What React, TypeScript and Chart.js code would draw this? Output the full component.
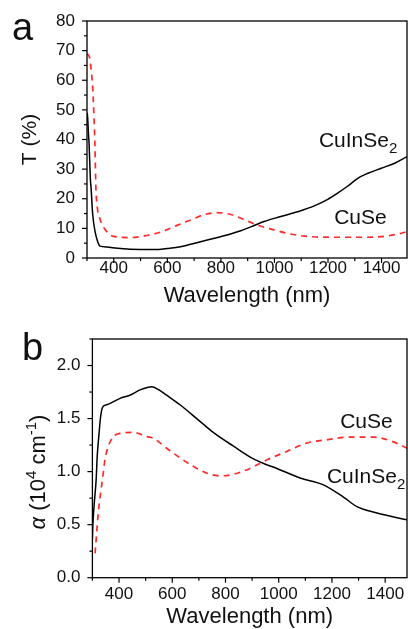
import React, { useEffect, useRef } from 'react';
import { Chart, registerables } from 'chart.js';

Chart.register(...registerables);

// ---------- data ----------
const A_X_TICKS = [400, 600, 800, 1000, 1200, 1400];
const A_Y_TICKS = [0, 10, 20, 30, 40, 50, 60, 70, 80];
const B_X_TICKS = [400, 600, 800, 1000, 1200, 1400];
const B_Y_TICKS = [0, 0.5, 1.0, 1.5, 2.0];

// Panel a: transmittance T (%)
const A_CIS_WL = [300, 302, 306, 307, 313, 315, 321, 330, 340, 349, 375, 397, 451, 500, 567, 600, 649, 724, 799, 836, 874, 920, 961, 1024, 1086, 1149, 1199, 1236, 1274, 1311, 1349, 1399, 1449, 1495];
const A_CIS_T = [49, 48, 41, 40, 26, 24, 15, 9, 5.5, 4, 3.7, 3.5, 3.0, 2.9, 2.9, 3.2, 3.8, 5.5, 7.2, 8.1, 9.2, 10.8, 12.3, 14.0, 15.6, 17.6, 19.8, 21.9, 24.3, 26.9, 28.6, 30.3, 32.0, 34.2];
const A_CUSE_WL = [300, 310, 316, 321, 326, 330, 333, 338, 349, 367, 399, 461, 523, 574, 636, 689, 736, 786, 836, 886, 936, 999, 1049, 1111, 1211, 1311, 1399, 1461, 1495];
const A_CUSE_T = [69, 67.5, 63, 57.9, 47.8, 36.6, 24.2, 17.5, 13, 9.7, 7.3, 6.9, 7.6, 8.7, 11, 12.9, 14.6, 15.3, 14.7, 13, 11.1, 9.5, 8.3, 7.4, 7.0, 7.0, 7.2, 8.1, 8.9];

// Panel b: absorption coefficient (10^4 cm^-1)
const B_CIS_WL = [300, 301, 306, 314, 318, 325, 331, 339, 354, 369, 404, 441, 479, 510, 523, 550, 579, 629, 692, 754, 830, 905, 950, 993, 1080, 1168, 1243, 1294, 1369, 1482];
const B_CIS_A = [0.36, 0.45, 0.67, 0.92, 1.14, 1.36, 1.52, 1.61, 1.63, 1.645, 1.69, 1.72, 1.77, 1.795, 1.80, 1.77, 1.72, 1.63, 1.50, 1.37, 1.24, 1.12, 1.07, 1.03, 0.94, 0.875, 0.76, 0.67, 0.61, 0.545];
const B_CUSE_WL = [310, 316, 322, 331, 339, 347, 360, 379, 404, 454, 504, 529, 579, 629, 679, 730, 780, 830, 892, 955, 1030, 1106, 1181, 1268, 1356, 1431, 1482];
const B_CUSE_A = [0.23, 0.42, 0.61, 0.80, 0.95, 1.11, 1.24, 1.33, 1.36, 1.37, 1.33, 1.315, 1.22, 1.13, 1.05, 0.985, 0.96, 0.975, 1.03, 1.11, 1.19, 1.27, 1.30, 1.325, 1.325, 1.28, 1.22];

// ---------- styling ----------
const FONT = '"Liberation Sans", Arial, Helvetica, sans-serif';
const INK = '#111';
const RED = '#ff2a2a';
const W = 408;

type Seg = { t: string; size: number; dy?: number; italic?: boolean };

function drawRich(ctx: CanvasRenderingContext2D, x: number, y: number, segs: Seg[], center = false) {
  let total = 0;
  for (const s of segs) {
    ctx.font = `${s.italic ? 'italic ' : ''}${s.size}px ${FONT}`;
    total += ctx.measureText(s.t).width;
  }
  let cx = center ? x - total / 2 : x;
  for (const s of segs) {
    ctx.font = `${s.italic ? 'italic ' : ''}${s.size}px ${FONT}`;
    ctx.fillText(s.t, cx, y + (s.dy || 0));
    cx += ctx.measureText(s.t).width;
  }
}

function series(xs: number[], ys: number[]) {
  return xs.map((x, i) => ({ x, y: ys[i] }));
}

const framePlugin = {
  id: 'frame',
  afterDatasetsDraw(chart: any) {
    const { ctx, chartArea } = chart;
    const { left, top, right, bottom } = chartArea;
    const xs = chart.scales.x;
    const ys = chart.scales.y;
    ctx.save();
    ctx.strokeStyle = '#000';
    ctx.lineWidth = 1.3;
    ctx.strokeRect(left, top, right - left, bottom - top);
    const MAJ = 5, MIN = 3;
    ctx.lineWidth = 1.2;
    const line = (x1: number, y1: number, x2: number, y2: number) => {
      ctx.beginPath(); ctx.moveTo(x1, y1); ctx.lineTo(x2, y2); ctx.stroke();
    };
    const minors = (scale: any) => {
      const t = scale.ticks.map((k: any) => k.value);
      const step = t[1] - t[0];
      const out: number[] = [];
      let v = t[0] - step / 2;
      while (v - step >= scale.min - 1e-9) v -= step;
      for (; v <= scale.max + 1e-9; v += step) if (v >= scale.min - 1e-9) out.push(v);
      return out;
    };
    xs.ticks.forEach((k: any) => { const p = xs.getPixelForValue(k.value); line(p, bottom, p, bottom + MAJ); });
    minors(xs).forEach((v) => { const p = xs.getPixelForValue(v); line(p, bottom, p, bottom + MIN); });
    ys.ticks.forEach((k: any) => { const p = ys.getPixelForValue(k.value); line(left, p, left - MAJ, p); });
    minors(ys).forEach((v) => { const p = ys.getPixelForValue(v); line(left, p, left - MIN, p); });
    ctx.restore();
  },
};

function makeConfig(p: {
  H: number; top: number; left: number; bottom: number;
  xMax: number; yMax: number; xTicks: number[]; yTicks: number[];
  cis: { x: number; y: number }[]; cuse: { x: number; y: number }[];
  xTickPad: number; xTitlePad: number; yTitle: string | null; yTitlePad: number;
  yFmt: (v: number) => string;
  deco: (chart: any) => void;
}) {
  return {
    type: 'scatter' as const,
    data: {
      datasets: [
        {
          label: 'CuInSe2', data: p.cis, showLine: true, borderColor: '#000', borderWidth: 1.5,
          pointRadius: 0, cubicInterpolationMode: 'monotone', fill: false,
        },
        {
          label: 'CuSe', data: p.cuse, showLine: true, borderColor: RED, borderWidth: 1.7,
          borderDash: [6, 5], pointRadius: 0, cubicInterpolationMode: 'monotone', fill: false,
        },
      ],
    },
    options: {
      responsive: false,
      animation: false,
      devicePixelRatio: 1,
      layout: { padding: { top: p.top, right: 1, left: 0, bottom: 0 } },
      plugins: { legend: { display: false }, tooltip: { enabled: false } },
      scales: {
        x: {
          type: 'linear', min: 300, max: p.xMax,
          afterBuildTicks: (s: any) => { s.ticks = p.xTicks.map((v) => ({ value: v })); },
          afterFit: (s: any) => { s.height = p.H - p.bottom; s.paddingLeft = 0; s.paddingRight = 0; },
          grid: { display: false, drawTicks: false },
          border: { display: false },
          ticks: {
            font: { family: FONT, size: 17, lineHeight: 1 }, color: INK, padding: p.xTickPad,
            maxRotation: 0, autoSkip: false, callback: (v: any) => String(Math.round(Number(v))),
          },
          title: { display: true, text: 'Wavelength (nm)', color: INK, font: { family: FONT, size: 22, lineHeight: 1 }, padding: { top: 0, bottom: p.xTitlePad } },
        },
        y: {
          type: 'linear', min: 0, max: p.yMax,
          afterBuildTicks: (s: any) => { s.ticks = p.yTicks.map((v) => ({ value: v })); },
          afterFit: (s: any) => { s.width = p.left; s.paddingTop = 0; s.paddingBottom = 0; },
          grid: { display: false, drawTicks: false },
          border: { display: false },
          ticks: { font: { family: FONT, size: 17, lineHeight: 1 }, color: INK, padding: 12, callback: (v: any) => p.yFmt(Number(v)) },
          title: p.yTitle
            ? { display: true, text: p.yTitle, color: INK, font: { family: FONT, size: 21, lineHeight: 1 }, padding: { top: p.yTitlePad, bottom: 0 } }
            : { display: false },
        },
      },
    },
    plugins: [framePlugin, { id: 'deco', afterDraw: p.deco }],
  };
}

const configA = () =>
  makeConfig({
    H: 310, top: 21, left: 87, bottom: 258, xMax: 1495, yMax: 80,
    xTicks: A_X_TICKS, yTicks: A_Y_TICKS,
    cis: series(A_CIS_WL, A_CIS_T), cuse: series(A_CUSE_WL, A_CUSE_T),
    xTickPad: 2, xTitlePad: 3, yTitle: 'T (%)', yTitlePad: 19.5,
    yFmt: (v) => String(Math.round(v)),
    deco: (chart: any) => {
      const { ctx } = chart;
      const xs = chart.scales.x, ys = chart.scales.y;
      ctx.save();
      ctx.fillStyle = INK;
      ctx.textBaseline = 'alphabetic';
      ctx.textAlign = 'left';
      drawRich(ctx, 12, 40, [{ t: 'a', size: 38 }]);
      drawRich(ctx, xs.getPixelForValue(1166), ys.getPixelForValue(37.5), [{ t: 'CuInSe', size: 21 }, { t: '2', size: 15, dy: 6 }]);
      drawRich(ctx, xs.getPixelForValue(1223), ys.getPixelForValue(11.5), [{ t: 'CuSe', size: 21 }]);
      ctx.restore();
    },
  });

const configB = () =>
  makeConfig({
    H: 320, top: 29, left: 92.4, bottom: 267.7, xMax: 1482, yMax: 2.25,
    xTicks: B_X_TICKS, yTicks: B_Y_TICKS,
    cis: series(B_CIS_WL, B_CIS_A), cuse: series(B_CUSE_WL, B_CUSE_A),
    xTickPad: 7.8, xTitlePad: 2.5, yTitle: null, yTitlePad: 0,
    yFmt: (v) => v.toFixed(1),
    deco: (chart: any) => {
      const { ctx } = chart;
      const xs = chart.scales.x, ys = chart.scales.y;
      ctx.save();
      ctx.fillStyle = INK;
      ctx.textBaseline = 'alphabetic';
      ctx.textAlign = 'left';
      drawRich(ctx, 22, 50, [{ t: 'b', size: 38 }]);
      drawRich(ctx, xs.getPixelForValue(1231), ys.getPixelForValue(1.41), [{ t: 'CuSe', size: 21 }]);
      drawRich(ctx, xs.getPixelForValue(1181), ys.getPixelForValue(0.89), [{ t: 'CuInSe', size: 21 }, { t: '2', size: 15, dy: 6 }]);
      // rotated y-axis title
      ctx.save();
      ctx.translate(37, 162);
      ctx.rotate(-Math.PI / 2);
      drawRich(ctx, 0, 7.7, [
        { t: 'α', size: 22, italic: true },
        { t: ' (10', size: 22 },
        { t: '4', size: 15, dy: -9 },
        { t: ' cm', size: 22 },
        { t: '-1', size: 15, dy: -9 },
        { t: ')', size: 22 },
      ], true);
      ctx.restore();
      ctx.restore();
    },
  });

function Panel({ make, height, top }: { make: () => any; height: number; top: number }) {
  const ref = useRef<HTMLCanvasElement | null>(null);
  useEffect(() => {
    if (!ref.current) return;
    const chart = new Chart(ref.current, make());
    return () => chart.destroy();
  }, [make]);
  return (
    <canvas
      ref={ref}
      width={W}
      height={height}
      style={{ position: 'absolute', left: 0, top, width: W, height, display: 'block' }}
    />
  );
}

export default function App() {
  return (
    <div style={{ position: 'fixed', left: 0, top: 0, width: W, height: 629, overflow: 'hidden', background: '#fff' }}>
      <Panel make={configA} height={310} top={0} />
      <Panel make={configB} height={320} top={310} />
    </div>
  );
}
